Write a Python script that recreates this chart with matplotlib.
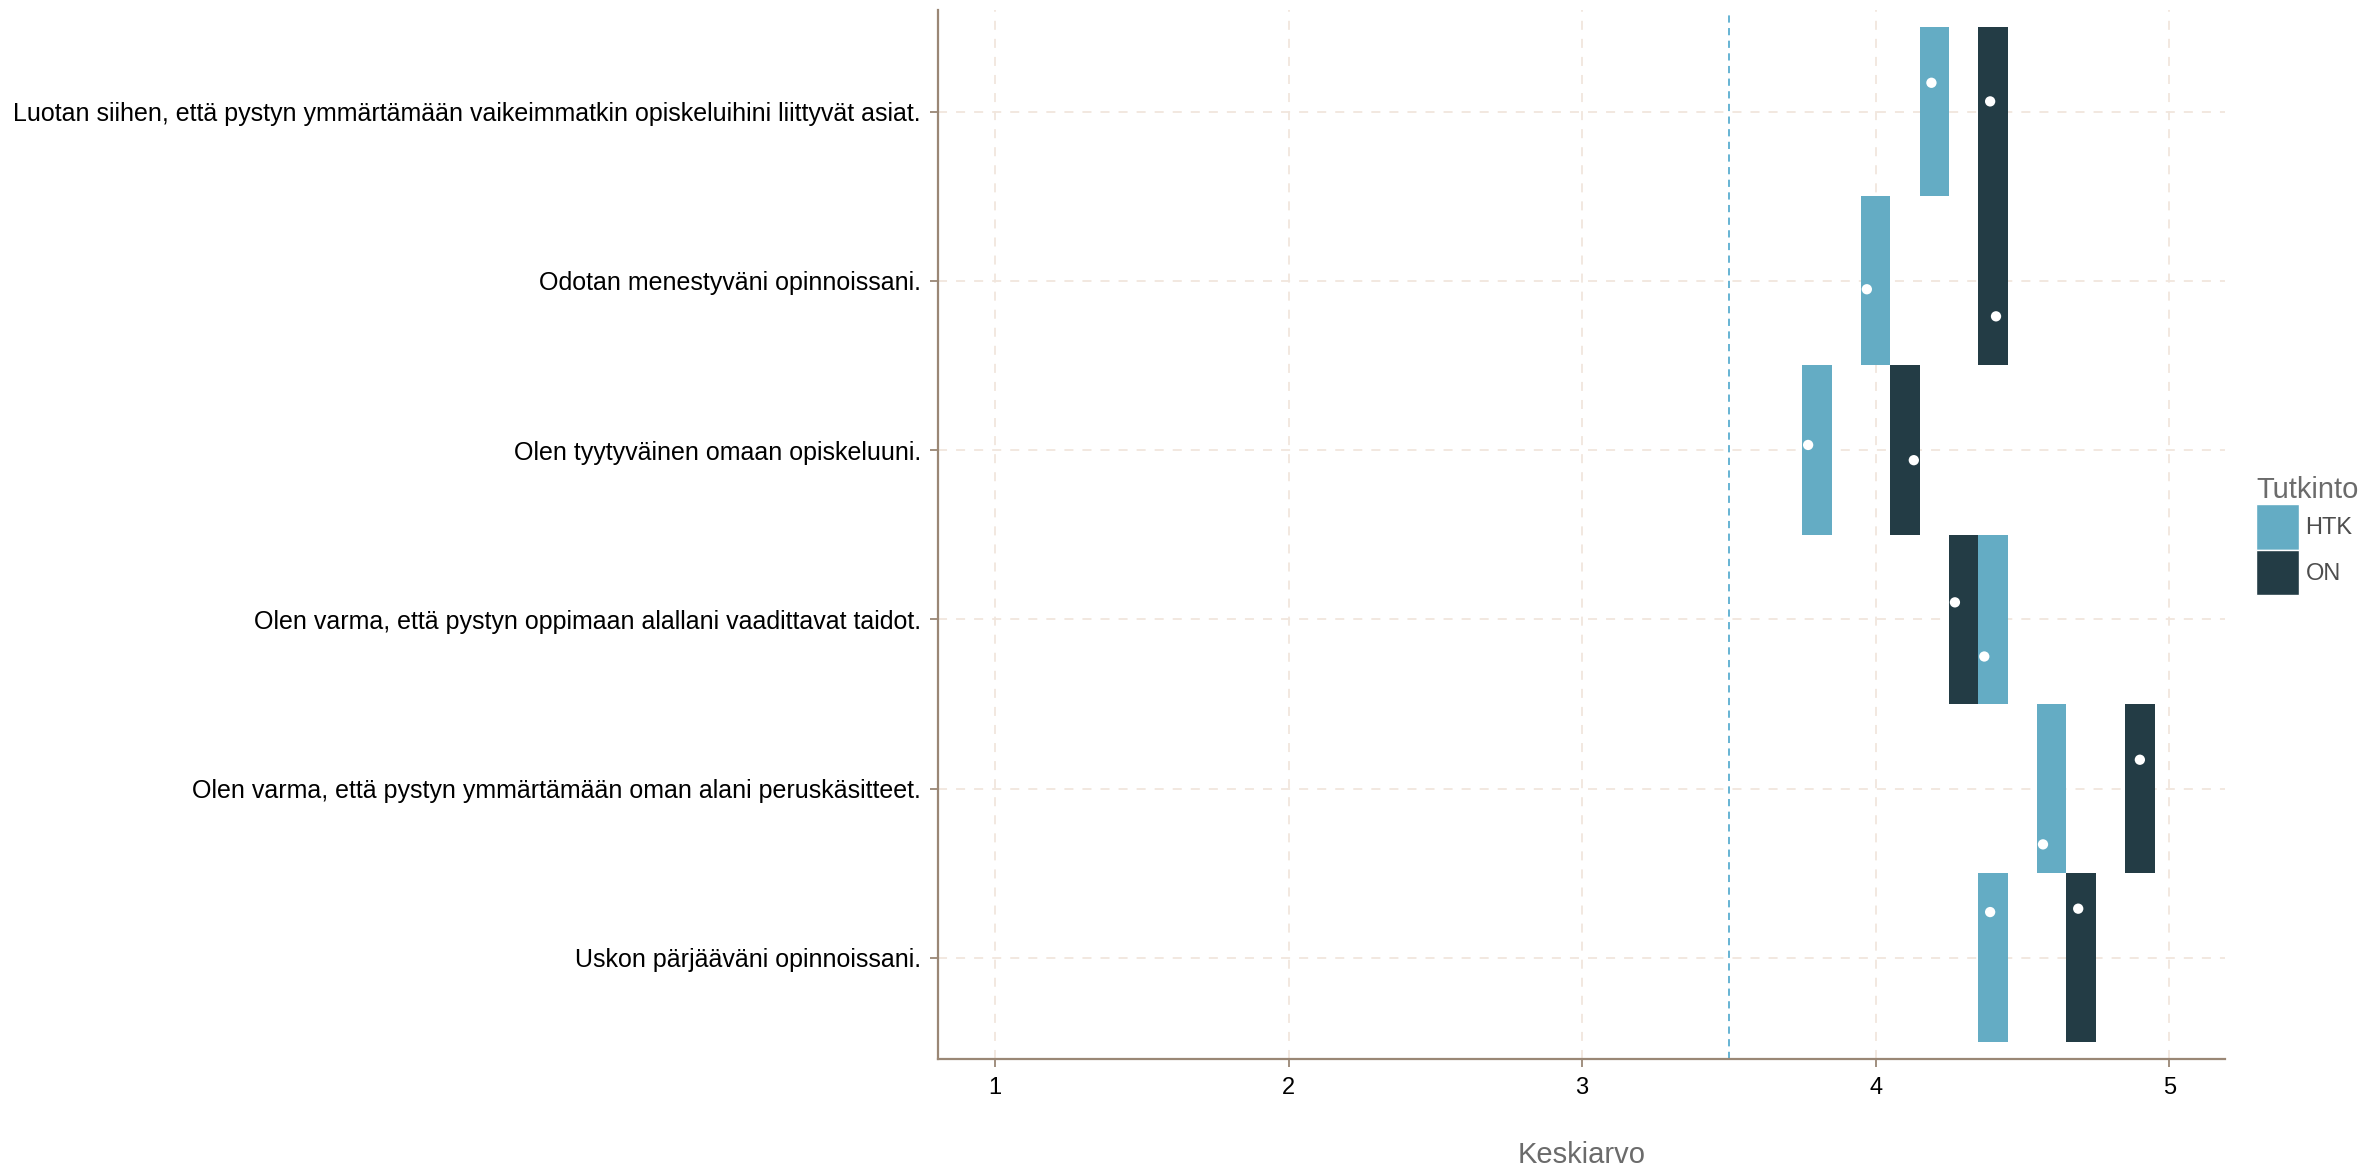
import matplotlib
matplotlib.use("Agg")
import matplotlib.pyplot as plt
from matplotlib.patches import Patch
import numpy as np

plt.rcParams['font.family'] = ['Liberation Sans', 'DejaVu Sans']

# kysymykset ylhäältä alas
items = [
    "Luotan siihen, että pystyn ymmärtämään vaikeimmatkin opiskeluihini liittyvät asiat.",
    "Odotan menestyväni opinnoissani.",
    "Olen tyytyväinen omaan opiskeluuni.",
    "Olen varma, että pystyn oppimaan alallani vaadittavat taidot.",
    "Olen varma, että pystyn ymmärtämään oman alani peruskäsitteet.",
    "Uskon pärjääväni opinnoissani.",
]
groups = ["HTK", "ON"]
htk_mean = [4.19, 3.97, 3.77, 4.37, 4.57, 4.39]
on_mean = [4.39, 4.41, 4.13, 4.27, 4.90, 4.69]
# pisteiden pystysuuntainen jitter (luettu kuvasta)
htk_jit = [0.17, -0.05, 0.03, -0.22, -0.33, 0.27]
on_jit = [0.06, -0.21, -0.06, 0.10, 0.17, 0.29]
ref_line = 3.5

colors = {"HTK": "#64acc4", "ON": "#233c45"}
spine_col = "#9a8775"
grid_col = "#f1e6dd"

W, H = 2364, 1173
fig = plt.figure(figsize=(W / 100, H / 100), dpi=100)
ax = fig.add_axes([937.7 / W, (H - 1059.3) / H, (2225 - 937.7) / W, (1059.3 - 10) / H])

n = len(items)
rows = np.arange(n, 0, -1)

for g, means, jit in [("HTK", htk_mean, htk_jit), ("ON", on_mean, on_jit)]:
    means = np.array(means)
    tiles = np.round(means, 1)
    ax.bar(tiles, 1.0, width=0.1, bottom=rows - 0.5, color=colors[g],
           edgecolor='none', zorder=3)
    ax.scatter(means, rows + np.array(jit), s=55, color='white',
               edgecolors='none', zorder=4)

ax.axvline(ref_line, color="#5aaed0", lw=1.3, ls=(0, (4, 3)), zorder=2)

ax.set_xlim(0.805, 5.19)
ax.set_ylim(0.4, n + 0.6)
ax.set_xticks([1, 2, 3, 4, 5])
ax.set_yticks(rows)
ax.set_yticklabels(items)

ax.grid(True, color=grid_col, lw=1.3, ls=(0, (5, 5)), zorder=0)
ax.set_axisbelow(True)

for s in ['top', 'right']:
    ax.spines[s].set_visible(False)
for s in ['left', 'bottom']:
    ax.spines[s].set_color(spine_col)
    ax.spines[s].set_linewidth(1.6)
ax.tick_params(colors=spine_col, length=6, width=1.3, labelcolor='black')
ax.tick_params(axis='x', pad=7, labelsize=17)
ax.tick_params(axis='y', pad=6, labelsize=18)

ax.set_xlabel("Keskiarvo", fontsize=21, color='#6b6b6b', labelpad=30)

handles = [Patch(facecolor=colors[g], edgecolor='white', label=g) for g in groups]
leg = fig.legend(handles=handles, title="Tutkinto", loc='upper left',
                 bbox_to_anchor=(2256 / W, 1 - 476 / H), frameon=False,
                 fontsize=17, title_fontsize=21, handlelength=1.8,
                 handleheight=2.6, handletextpad=0.3, labelspacing=0.0,
                 borderpad=0, borderaxespad=0)
leg._legend_box.align = "left"
for t in leg.get_texts():
    t.set_color('#4d4d4d')
leg.get_title().set_color('#6b6b6b')

fig.savefig("out.png", dpi=100, facecolor='white')
